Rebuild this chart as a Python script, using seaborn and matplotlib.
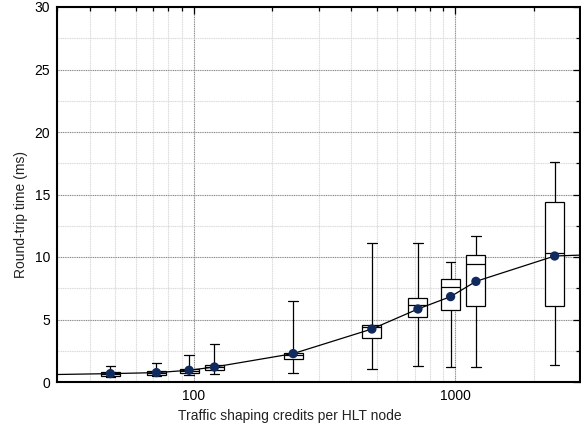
import numpy as np
import pandas as pd
import matplotlib
matplotlib.use("Agg")
import matplotlib.pyplot as plt
from matplotlib.ticker import MultipleLocator, LogLocator, ScalarFormatter, NullFormatter
import seaborn as sns

# Traffic shaping credits per HLT node
credits = [48, 72, 96, 120, 240, 480, 720, 960, 1200, 2400]
# Round-trip time summary per setting (ms)
rtt_min = [0.40, 0.46, 0.54, 0.62, 0.72, 1.04, 1.28, 1.23, 1.20, 1.36]
rtt_q1 = [0.50, 0.56, 0.72, 0.99, 1.84, 3.50, 5.17, 5.73, 6.05, 6.08]
rtt_median = [0.64, 0.72, 0.88, 1.18, 2.14, 4.37, 6.16, 7.57, 9.41, 10.30]
rtt_q3 = [0.80, 0.88, 1.04, 1.36, 2.35, 4.56, 6.70, 8.21, 10.13, 14.37]
rtt_max = [1.28, 1.55, 2.20, 3.07, 6.50, 11.10, 11.10, 9.63, 11.66, 17.60]
rtt_mean = [0.67, 0.75, 0.94, 1.20, 2.27, 4.24, 5.84, 6.83, 8.05, 10.08]

# Trend curve through the means, spanning the full credit range
trend_x = [30] + credits + [3000]
trend_y = [0.60] + rtt_mean + [10.15]

x_ticks = [100, 1000]
y_ticks = [0, 5, 10, 15, 20, 25, 30]

sns.set_theme(style="white")
plt.rcParams["font.family"] = ["Liberation Sans", "DejaVu Sans"]

# Five summary points per setting give exact quartiles with whiskers at min/max
rows = []
for c, lo, a, m, b, hi in zip(credits, rtt_min, rtt_q1, rtt_median, rtt_q3, rtt_max):
    for v in (lo, a, m, b, hi):
        rows.append({"credits": c, "rtt": v})
df = pd.DataFrame(rows)

fig = plt.figure(figsize=(5.81, 4.29), dpi=100)
ax = fig.add_axes([57 / 581, 1 - 382 / 429, 523 / 581, 375 / 429])

sns.boxplot(data=df, x="credits", y="rtt", orient="x", native_scale=True,
            log_scale=(True, False), whis=(0, 100), width=0.75,
            color="white", linecolor="black", saturation=1, linewidth=0.9,
            showfliers=False, ax=ax, zorder=3)

sns.lineplot(x=trend_x, y=trend_y, color="black", linewidth=0.9, ax=ax,
             zorder=4, sort=False)
sns.scatterplot(x=credits, y=rtt_mean, color="#102a5e", s=45, edgecolor="none",
                ax=ax, zorder=5)

ax.set_xscale("log")
ax.set_xlim(30, 3000)
ax.set_ylim(0, 30)
ax.set_xticks(x_ticks)
ax.xaxis.set_major_formatter(ScalarFormatter())
ax.xaxis.set_minor_locator(LogLocator(base=10, subs=np.arange(2, 10)))
ax.xaxis.set_minor_formatter(NullFormatter())
ax.set_yticks(y_ticks)
ax.yaxis.set_minor_locator(MultipleLocator(2.5))

ax.grid(which="major", color="#8c8c8c", linewidth=0.8, linestyle=(0, (1, 0.6)), zorder=0)
ax.grid(which="minor", color="#d9d9d9", linewidth=0.8, linestyle=(0, (1, 0.6)), zorder=0)
ax.set_axisbelow(True)

ax.tick_params(which="both", direction="in", top=True, right=True, colors="black",
               labelsize=10, pad=5)
ax.tick_params(which="major", length=5, width=0.9)
ax.tick_params(which="minor", length=3, width=0.9)
for s in ax.spines.values():
    s.set_color("black")
    s.set_linewidth(1.5)

# Axis titles are centred on the whole canvas rather than on the plot frame
ax.set_xlabel("Traffic shaping credits per HLT node", fontsize=10, color="#222222")
ax.set_ylabel("Round-trip time (ms)", fontsize=10, color="#222222")
ax.xaxis.set_label_coords(0.446, -0.072)
ax.yaxis.set_label_coords(-0.056, 0.447)

fig.savefig("out.png", dpi=100)
